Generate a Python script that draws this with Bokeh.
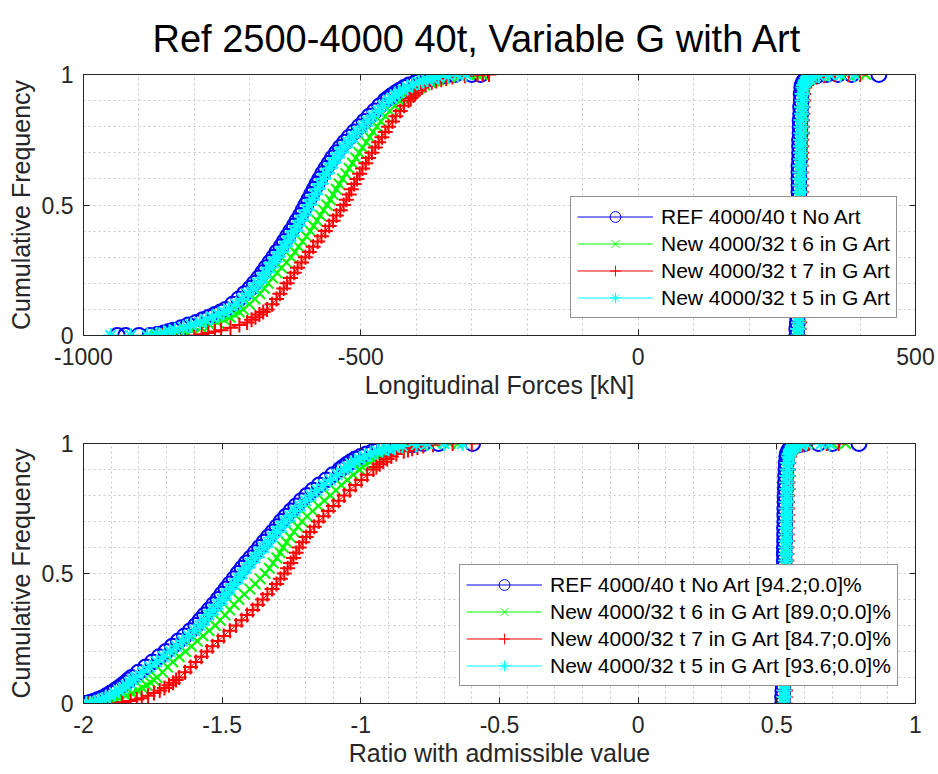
from bokeh.plotting import figure
from bokeh.layouts import column
from bokeh.models import Legend, LegendItem, LinearAxis, FixedTicker, Range1d
from bokeh.embed import file_html
from bokeh.resources import INLINE

# ---------------- data ----------------
TITLE = "Ref 2500-4000 40t, Variable G with Art"
NAMES = ["REF 4000/40 t No Art", "New 4000/32 t 6 in G Art",
         "New 4000/32 t 7 in G Art", "New 4000/32 t 5 in G Art"]
RATIO_SUFFIX = [" [94.2;0.0]%", " [89.0;0.0]%", " [84.7;0.0]%", " [93.6;0.0]%"]
COLORS = ["#0000ff", "#00ff00", "#ff0000", "#00ffff"]
MARKERS = ["circle", "x", "cross", "asterisk"]

# cumulative-frequency levels of the compressive (left) branch
cf_left = [0.0, 0.005, 0.01, 0.015, 0.02, 0.03, 0.04, 0.05, 0.06, 0.07, 0.08, 0.09, 0.10,
           0.12, 0.14, 0.16, 0.18, 0.20, 0.22, 0.24, 0.26, 0.28, 0.30, 0.32, 0.34, 0.36,
           0.38, 0.40, 0.42, 0.44, 0.46, 0.48, 0.50, 0.52, 0.54, 0.56, 0.58, 0.60, 0.62,
           0.64, 0.66, 0.68, 0.70, 0.72, 0.74, 0.76, 0.78, 0.80, 0.82, 0.84, 0.86, 0.88,
           0.90, 0.91, 0.92, 0.93, 0.94, 0.95, 0.96, 0.97, 0.975, 0.98, 0.985, 0.99, 0.995, 1.0]
# cumulative-frequency levels of the tensile (right) branch
cf_right = [0.0, 0.025, 0.05, 0.075, 0.1, 0.125, 0.15, 0.175, 0.2, 0.225, 0.25, 0.275, 0.3,
            0.325, 0.35, 0.375, 0.4, 0.425, 0.45, 0.475, 0.5, 0.525, 0.55, 0.575, 0.6, 0.625,
            0.65, 0.675, 0.7, 0.725, 0.75, 0.775, 0.8, 0.825, 0.85, 0.875, 0.9, 0.925, 0.95,
            0.96, 0.97, 0.975, 0.98, 0.985, 0.99, 0.995, 1.0]

# ---- Longitudinal forces [kN], compressive branch
force_ref_left = [-880, -866, -855, -846, -838, -824, -811, -797, -785, -774, -763, -753, -744,
                  -731, -720, -710, -700, -692, -684, -677, -671, -664, -657, -651, -644, -638,
                  -632, -626, -620, -615, -609, -604, -599, -594, -589, -584, -579, -574, -569,
                  -563, -557, -551, -544, -537, -529, -521, -512, -503, -494, -485, -475, -466,
                  -456, -450, -444, -437, -430, -422, -413, -401, -394, -385, -376, -365, -347, -330]
force_g6_left = [-862, -845, -830, -817, -805, -788, -772, -758, -746, -736, -727, -719, -712,
                 -701, -691, -682, -674, -667, -659, -651, -643, -634, -626, -619, -612, -605,
                 -598, -591, -585, -579, -573, -567, -561, -555, -550, -544, -539, -533, -527,
                 -521, -515, -509, -503, -497, -490, -484, -478, -471, -464, -456, -448, -439,
                 -430, -424, -418, -411, -403, -394, -385, -375, -368, -360, -351, -340, -322, -305]
force_g7_left = [-800, -787, -775, -763, -752, -735, -719, -705, -697, -690, -683, -676, -669,
                 -660, -652, -646, -639, -633, -627, -620, -614, -607, -600, -593, -586, -578,
                 -571, -564, -557, -550, -544, -537, -531, -526, -521, -517, -512, -507, -502,
                 -497, -491, -486, -480, -474, -468, -462, -456, -450, -443, -437, -429, -422,
                 -414, -410, -405, -401, -396, -390, -383, -372, -364, -355, -346, -335, -312, -290]
force_g5_left = [-885, -868, -855, -845, -835, -820, -806, -790, -779, -768, -757, -747, -738,
                 -725, -714, -704, -694, -686, -678, -671, -665, -658, -651, -645, -638, -632,
                 -626, -620, -614, -609, -603, -598, -593, -588, -583, -578, -573, -568, -563,
                 -557, -551, -545, -538, -531, -523, -515, -506, -497, -488, -479, -469, -460,
                 -450, -444, -438, -431, -424, -416, -407, -395, -389, -380, -371, -360, -342, -325]
force_tail_low = [[-939, -924, -900], [-870], [-858, -835], [-951, -915]]
force_tail_high = [[-300, -284], [-290, -281], [-280, -269], [-310]]

# ---- Longitudinal forces [kN], tensile branch
force_ref_right = [286, 286, 287, 287, 287, 287, 287, 288, 288, 288, 288, 288, 288, 288, 289, 289,
                   289, 289, 289, 289, 289, 290, 290, 290, 290, 290, 290, 291, 291, 291, 291, 292,
                   292, 292, 293, 293, 294, 294, 295, 296, 298, 300, 302, 305, 310, 322, 340]
force_g6_right = [289, 289, 290, 290, 290, 290, 290, 291, 291, 291, 291, 291, 291, 291, 292, 292,
                  292, 292, 292, 292, 292, 293, 293, 293, 293, 293, 293, 294, 294, 294, 294, 295,
                  295, 295, 296, 296, 297, 297, 298, 299, 303, 305, 308, 312, 318, 330, 350]
force_g7_right = [290, 290, 291, 291, 291, 291, 291, 292, 292, 292, 292, 292, 292, 292, 293, 293,
                  293, 293, 293, 293, 293, 294, 294, 294, 294, 294, 294, 295, 295, 295, 295, 296,
                  296, 296, 297, 297, 298, 298, 300, 302, 306, 308, 311, 315, 322, 335, 355]
force_g5_right = [288, 288, 289, 289, 289, 289, 289, 290, 290, 290, 290, 290, 290, 290, 291, 291,
                  291, 291, 291, 291, 291, 292, 292, 292, 292, 292, 292, 293, 293, 293, 293, 294,
                  294, 294, 295, 295, 296, 296, 297, 298, 301, 303, 305, 309, 314, 326, 345]
force_right_tail = [[360, 385, 434], [375, 395, 410], [380, 400], [365, 390]]

# ---- Ratio with admissible value, compressive branch
ratio_ref_left = [-1.99, -1.975, -1.96, -1.947, -1.935, -1.918, -1.902, -1.887, -1.874, -1.861,
                  -1.849, -1.838, -1.827, -1.802, -1.776, -1.751, -1.727, -1.703, -1.68, -1.658,
                  -1.636, -1.615, -1.595, -1.579, -1.563, -1.547, -1.531, -1.515, -1.501, -1.486,
                  -1.472, -1.457, -1.443, -1.428, -1.413, -1.397, -1.381, -1.365, -1.349, -1.333,
                  -1.317, -1.302, -1.287, -1.27, -1.252, -1.234, -1.215, -1.195, -1.173, -1.15,
                  -1.125, -1.101, -1.075, -1.063, -1.05, -1.036, -1.02, -1.001, -0.98, -0.955,
                  -0.937, -0.915, -0.892, -0.865, -0.815, -0.775]
ratio_g6_left = [-1.95, -1.925, -1.90, -1.885, -1.87, -1.847, -1.825, -1.805, -1.788, -1.772,
                 -1.758, -1.746, -1.735, -1.715, -1.697, -1.678, -1.655, -1.632, -1.611, -1.59,
                 -1.569, -1.547, -1.525, -1.507, -1.49, -1.473, -1.457, -1.44, -1.42, -1.40,
                 -1.381, -1.363, -1.345, -1.33, -1.316, -1.303, -1.291, -1.28, -1.268, -1.255,
                 -1.241, -1.227, -1.212, -1.194, -1.174, -1.153, -1.132, -1.11, -1.09, -1.07,
                 -1.049, -1.027, -1.005, -0.994, -0.982, -0.969, -0.955, -0.939, -0.921, -0.90,
                 -0.886, -0.87, -0.848, -0.82, -0.78, -0.73]
ratio_g7_left = [-1.90, -1.86, -1.83, -1.808, -1.79, -1.767, -1.746, -1.725, -1.708, -1.692,
                 -1.677, -1.666, -1.655, -1.634, -1.614, -1.595, -1.575, -1.555, -1.535, -1.515,
                 -1.494, -1.472, -1.45, -1.43, -1.41, -1.39, -1.372, -1.354, -1.337, -1.32,
                 -1.304, -1.29, -1.276, -1.264, -1.253, -1.243, -1.233, -1.222, -1.21, -1.197,
                 -1.183, -1.168, -1.152, -1.135, -1.117, -1.099, -1.08, -1.06, -1.04, -1.019,
                 -0.998, -0.977, -0.955, -0.944, -0.932, -0.919, -0.905, -0.89, -0.872, -0.845,
                 -0.83, -0.815, -0.796, -0.775, -0.74, -0.70]
ratio_g5_left = [-1.975, -1.96, -1.945, -1.932, -1.92, -1.903, -1.887, -1.872, -1.859, -1.846,
                 -1.834, -1.823, -1.812, -1.787, -1.761, -1.736, -1.712, -1.688, -1.665, -1.643,
                 -1.621, -1.60, -1.58, -1.564, -1.548, -1.532, -1.516, -1.50, -1.486, -1.471,
                 -1.457, -1.442, -1.428, -1.413, -1.398, -1.382, -1.366, -1.35, -1.334, -1.318,
                 -1.302, -1.287, -1.272, -1.255, -1.237, -1.219, -1.20, -1.18, -1.158, -1.135,
                 -1.11, -1.086, -1.06, -1.048, -1.035, -1.021, -1.005, -0.986, -0.965, -0.94,
                 -0.922, -0.90, -0.877, -0.85, -0.80, -0.76]
ratio_tail_low = [[-1.998], [-1.965], [-1.985, -1.96, -1.93], [-1.99]]
ratio_tail_high = [[-0.72, -0.597], [-0.68, -0.65], [-0.669, -0.60], [-0.70, -0.633]]

# ---- Ratio with admissible value, tensile branch
ratio_ref_right = [0.521, 0.521, 0.522, 0.522, 0.522, 0.522, 0.522, 0.523, 0.523, 0.523, 0.523,
                   0.524, 0.524, 0.524, 0.525, 0.525, 0.525, 0.525, 0.526, 0.526, 0.526, 0.527,
                   0.527, 0.527, 0.527, 0.528, 0.528, 0.528, 0.529, 0.529, 0.529, 0.530, 0.530,
                   0.531, 0.531, 0.532, 0.533, 0.534, 0.536, 0.538, 0.542, 0.545, 0.548, 0.553,
                   0.560, 0.580, 0.600]
ratio_g6_right = [0.528, 0.528, 0.529, 0.529, 0.529, 0.529, 0.529, 0.530, 0.530, 0.530, 0.530,
                  0.531, 0.531, 0.531, 0.532, 0.532, 0.532, 0.532, 0.533, 0.533, 0.533, 0.534,
                  0.534, 0.534, 0.534, 0.535, 0.535, 0.535, 0.536, 0.536, 0.536, 0.537, 0.537,
                  0.538, 0.538, 0.539, 0.540, 0.541, 0.543, 0.545, 0.550, 0.553, 0.557, 0.562,
                  0.570, 0.590, 0.610]
ratio_g7_right = [0.530, 0.530, 0.531, 0.531, 0.531, 0.531, 0.531, 0.532, 0.532, 0.532, 0.532,
                  0.533, 0.533, 0.533, 0.534, 0.534, 0.534, 0.534, 0.535, 0.535, 0.535, 0.536,
                  0.536, 0.536, 0.536, 0.537, 0.537, 0.537, 0.538, 0.538, 0.538, 0.539, 0.539,
                  0.540, 0.540, 0.541, 0.542, 0.543, 0.545, 0.547, 0.552, 0.556, 0.560, 0.566,
                  0.575, 0.595, 0.615]
ratio_g5_right = [0.527, 0.527, 0.528, 0.528, 0.528, 0.528, 0.528, 0.529, 0.529, 0.529, 0.529,
                  0.530, 0.530, 0.530, 0.531, 0.531, 0.531, 0.531, 0.532, 0.532, 0.532, 0.533,
                  0.533, 0.533, 0.533, 0.534, 0.534, 0.534, 0.535, 0.535, 0.535, 0.536, 0.536,
                  0.537, 0.537, 0.538, 0.539, 0.540, 0.542, 0.544, 0.548, 0.551, 0.554, 0.559,
                  0.566, 0.586, 0.606]
ratio_right_tail = [[0.65, 0.70, 0.796], [0.70, 0.748], [0.68, 0.723], [0.66, 0.69]]

force_xticks = [-1000, -500, 0, 500]
force_xticklabels = ["-1000", "-500", "0", "500"]
force_xminor = [-900, -800, -700, -600, -400, -300, -200, -100, 100, 200, 300, 400]
ratio_xticks = [-2, -1.5, -1, -0.5, 0, 0.5, 1]
ratio_xticklabels = ["-2", "-1.5", "-1", "-0.5", "0", "0.5", "1"]
ratio_xminor = [-1.9, -1.8, -1.7, -1.6, -1.4, -1.3, -1.2, -1.1, -0.9, -0.8, -0.7, -0.6,
                -0.4, -0.3, -0.2, -0.1, 0.1, 0.2, 0.3, 0.4, 0.6, 0.7, 0.8, 0.9]
yticks = [0, 0.5, 1]
yticklabels = ["0", "0.5", "1"]
yminor = [0.1, 0.2, 0.3, 0.4, 0.6, 0.7, 0.8, 0.9]

# ---------------- styling ----------------
FONT = "Liberation Sans"
AX = "#262626"
GRID = "#c8c8c8"
NAN = float("nan")


def style_axis(ax, ticks, labels=None, hidden=False):
    ax.ticker = FixedTicker(ticks=ticks)
    ax.axis_line_color = AX
    ax.axis_line_width = 1
    ax.major_tick_line_color = AX
    ax.major_tick_in = 6
    ax.major_tick_out = 0
    ax.minor_tick_line_color = None
    if labels is not None:
        ax.major_label_overrides = {t: l for t, l in zip(ticks, labels)}
    ax.major_label_text_font = FONT
    ax.axis_label_text_font = FONT
    ax.axis_label_text_font_style = "normal"
    ax.axis_label_text_color = AX
    if hidden:
        ax.major_label_text_font_size = "0px"
        ax.major_label_text_color = None
        ax.major_label_standoff = 0
    else:
        ax.major_label_text_color = AX
        ax.major_label_text_font_size = "23px"
        ax.axis_label_text_font_size = "25px"


def panel(xr, xticks, xlabels, xminor, xlabel, branches, legend_labels, legend_loc,
          top_border, bottom_border, frame_h, title=None):
    p = figure(x_range=Range1d(*xr), y_range=Range1d(0, 1), output_backend="svg",
               toolbar_location=None, frame_width=832, frame_height=frame_h,
               min_border_left=83, min_border_right=23,
               min_border_top=top_border, min_border_bottom=bottom_border,
               background_fill_color="white", border_fill_color="white")
    p.outline_line_color = AX
    style_axis(p.xaxis[0], xticks, xlabels)
    style_axis(p.yaxis[0], yticks, yticklabels)
    p.xaxis[0].axis_label = xlabel
    p.xaxis[0].major_label_standoff = 12
    p.xaxis[0].axis_label_standoff = 3
    p.yaxis[0].axis_label = "Cumulative Frequency"
    p.yaxis[0].major_label_standoff = 10
    p.yaxis[0].axis_label_standoff = 4
    top = LinearAxis()
    style_axis(top, xticks, hidden=True)
    p.add_layout(top, "above")
    right = LinearAxis()
    style_axis(right, yticks, hidden=True)
    p.add_layout(right, "right")

    p.xgrid.ticker = FixedTicker(ticks=xticks, minor_ticks=xminor)
    p.ygrid.ticker = FixedTicker(ticks=yticks, minor_ticks=yminor)
    for g in (p.xgrid[0], p.ygrid[0]):
        g.grid_line_color = GRID
        g.grid_line_dash = "2 3"
        g.grid_line_width = 1
        g.minor_grid_line_color = GRID
        g.minor_grid_line_dash = "2 3"
        g.minor_grid_line_width = 1

    items = []
    for i, segs in enumerate(branches):
        for xs, ys in segs:
            p.line(xs, ys, line_color=COLORS[i], line_width=1)
            p.scatter(xs, ys, marker=MARKERS[i], size=15, line_color=COLORS[i],
                      fill_color=None, line_width=2)
        # thin-stroked entries that only serve the legend
        lr = p.line([NAN], [NAN], line_color=COLORS[i], line_width=1)
        sr = p.scatter([NAN], [NAN], marker=MARKERS[i], size=15, line_color=COLORS[i],
                       fill_color=None, line_width=1)
        items.append(LegendItem(label=legend_labels[i], renderers=[lr, sr]))

    lg = Legend(items=items, location=legend_loc)
    lg.border_line_color = AX
    lg.border_line_width = 1
    lg.background_fill_color = "white"
    lg.background_fill_alpha = 1
    lg.label_text_font = FONT
    lg.label_text_font_size = "21px"
    lg.label_text_color = "#000000"
    lg.glyph_width = 76
    lg.glyph_height = 27
    lg.label_height = 27
    lg.spacing = 0
    lg.padding = 6
    lg.label_standoff = 8
    lg.margin = 0
    p.add_layout(lg)

    if title:
        p.title.text = title
        p.title.align = "left"
        p.title.offset = 69
        p.title.text_font = FONT
        p.title.text_font_size = "38px"
        p.title.text_font_style = "normal"
        p.title.text_color = "#000000"
        p.title.standoff = 30
    return p


def build(left_lists, tails_low, tails_high, right_lists, right_tails):
    out = []
    for i in range(4):
        lx = tails_low[i] + left_lists[i] + tails_high[i]
        ly = [0.0] * len(tails_low[i]) + cf_left + [1.0] * len(tails_high[i])
        rx = right_lists[i] + right_tails[i]
        ry = cf_right + [1.0] * len(right_tails[i])
        out.append([(lx, ly), (rx, ry)])
    return out


force_branches = build([force_ref_left, force_g6_left, force_g7_left, force_g5_left],
                       force_tail_low, force_tail_high,
                       [force_ref_right, force_g6_right, force_g7_right, force_g5_right],
                       force_right_tail)
ratio_branches = build([ratio_ref_left, ratio_g6_left, ratio_g7_left, ratio_g5_left],
                       ratio_tail_low, ratio_tail_high,
                       [ratio_ref_right, ratio_g6_right, ratio_g7_right, ratio_g5_right],
                       ratio_right_tail)

p1 = panel((-1000, 500), force_xticks, force_xticklabels, force_xminor,
           "Longitudinal Forces [kN]", force_branches, NAMES, (487, 17), 74, 70, 261,
           title=TITLE)
p2 = panel((-2, 1), ratio_xticks, ratio_xticklabels, ratio_xminor, "Ratio with admissible value",
           ratio_branches, [n + s for n, s in zip(NAMES, RATIO_SUFFIX)], (376, 17), 38, 71, 260)

layout = column(p1, p2, spacing=0)
open("out.html", "w").write(file_html(layout, INLINE, "Ref 2500-4000 40t"))
